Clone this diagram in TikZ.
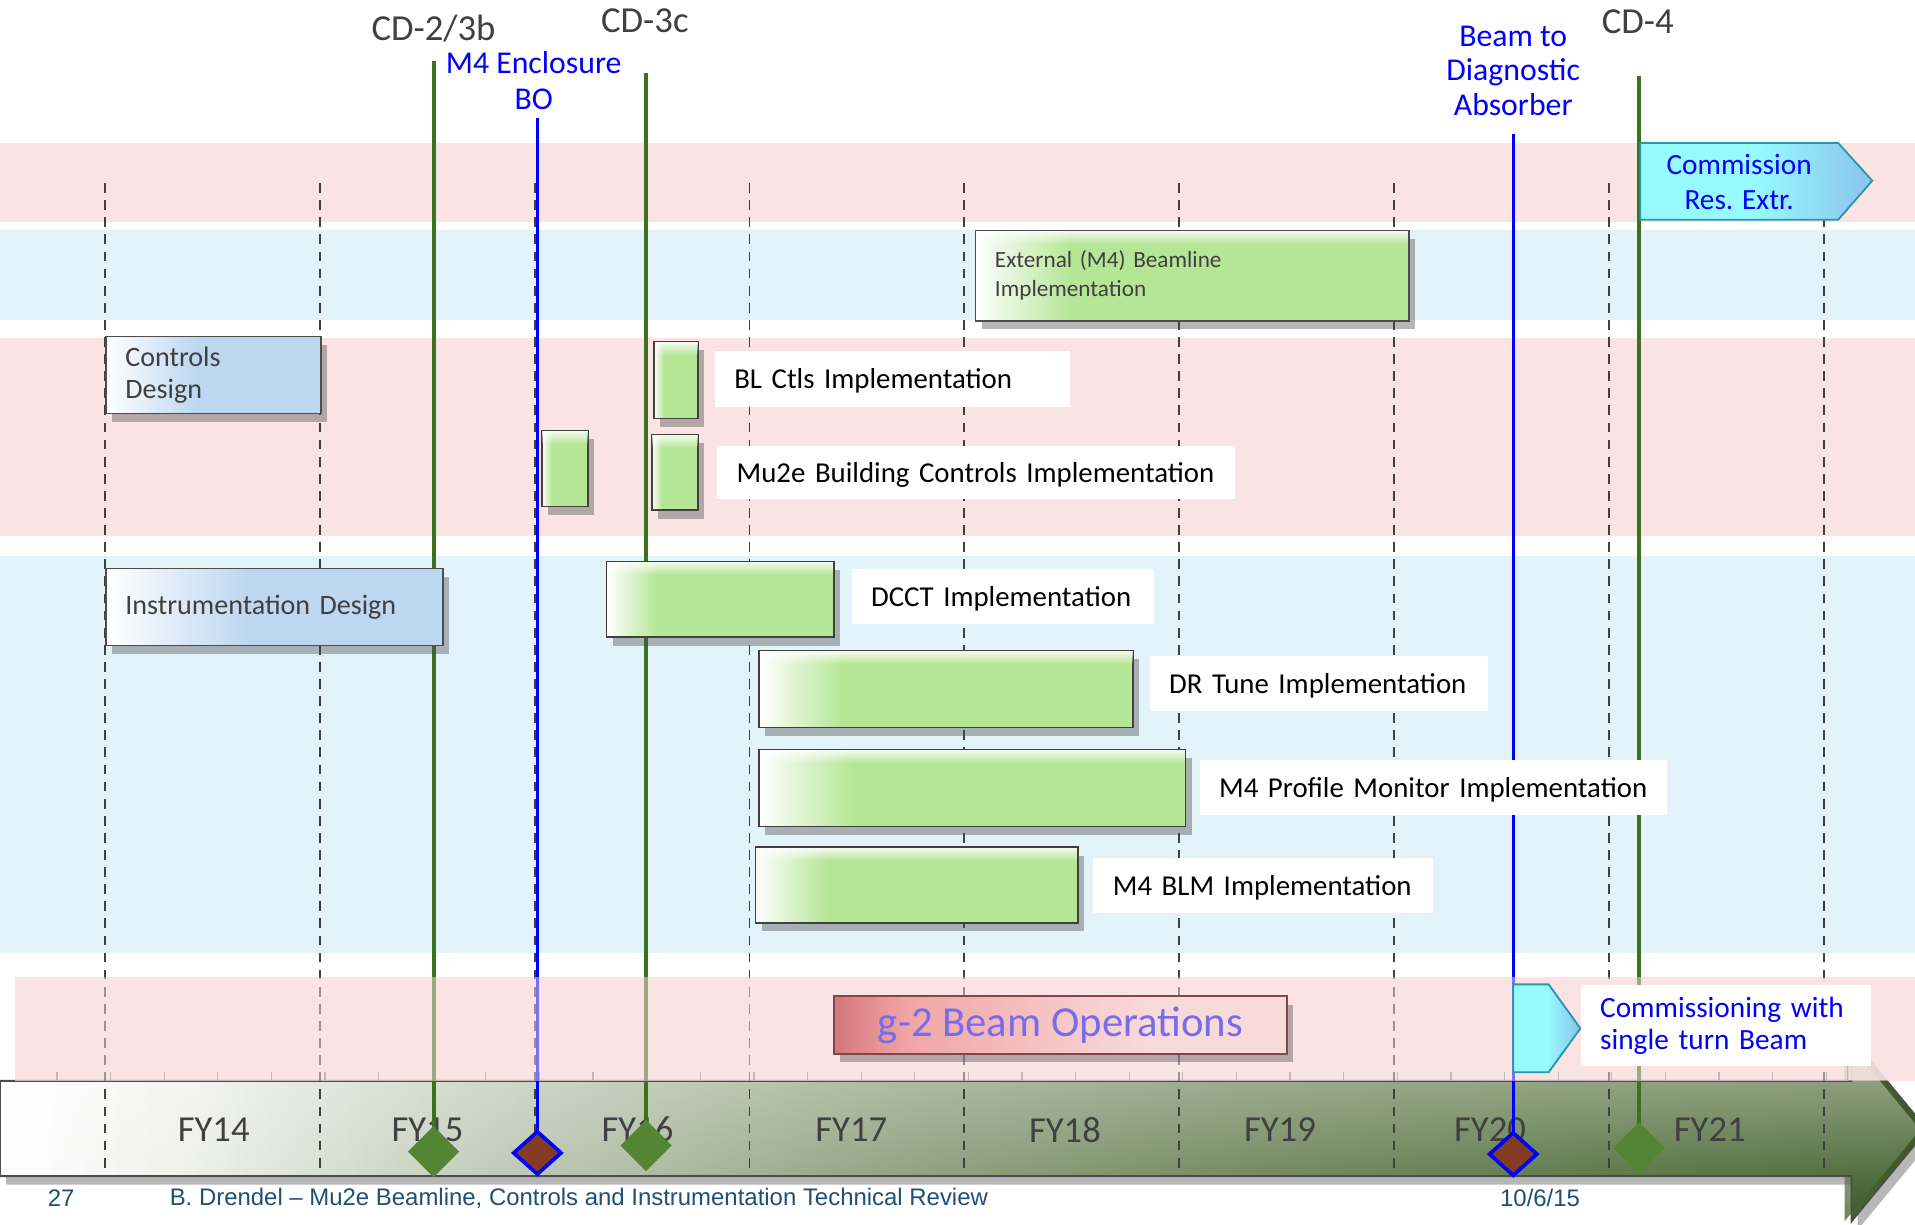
\documentclass[tikz,border=0pt]{standalone}
\usepackage{fontspec}
\setmainfont{Carlito}
\newfontfamily\footfont{Liberation Sans}
\usetikzlibrary{shapes.geometric,shadows,fadings}

\definecolor{bandpink}{RGB}{249,227,227}
\definecolor{bandblue}{RGB}{226,243,250}
\definecolor{bargreen}{RGB}{181,230,150}
\definecolor{designblue}{RGB}{189,215,240}
\definecolor{msgreen}{RGB}{58,114,30}
\definecolor{diagreen}{RGB}{83,133,50}
\definecolor{diabrown}{RGB}{132,60,36}
\definecolor{txtgray}{RGB}{64,64,64}
\definecolor{footblue}{RGB}{31,78,121}
\definecolor{comcyan}{RGB}{150,250,255}
\definecolor{comblue}{RGB}{140,195,235}
\definecolor{comedge}{RGB}{40,150,175}
\definecolor{gtwoL}{RGB}{212,118,122}
\definecolor{gtwoM}{RGB}{240,165,165}
\definecolor{gtwoR}{RGB}{249,218,218}
\definecolor{gtwotext}{RGB}{118,108,238}
\definecolor{tlA}{RGB}{250,250,248}
\definecolor{tlB}{RGB}{225,230,220}
\definecolor{tlC}{RGB}{204,212,196}
\definecolor{tlD}{RGB}{182,194,170}
\definecolor{tlE}{RGB}{160,178,148}
\definecolor{tlF}{RGB}{140,160,125}
\definecolor{tlG}{RGB}{118,143,100}
\definecolor{tlH}{RGB}{88,118,66}
\definecolor{tlI}{RGB}{58,88,36}
\definecolor{tltop}{RGB}{205,214,198}
\definecolor{tlbot}{RGB}{52,84,30}

\pgfdeclarehorizontalshading{greenfill}{100bp}{color(0bp)=(white); color(25bp)=(white); color(36bp)=(bargreen); color(100bp)=(bargreen)}
\pgfdeclarehorizontalshading{designfill}{100bp}{color(0bp)=(white); color(25bp)=(white); color(46bp)=(designblue); color(100bp)=(designblue)}
\pgfdeclarehorizontalshading{comfill}{100bp}{color(0bp)=(comcyan); color(50bp)=(comcyan); color(75bp)=(comblue); color(100bp)=(comblue)}
\pgfdeclarehorizontalshading{gtwofill}{100bp}{color(0bp)=(gtwoL); color(25bp)=(gtwoL); color(33bp)=(gtwoM); color(60bp)=(gtwoR); color(100bp)=(gtwoR)}
\pgfdeclarehorizontalshading{timefill}{100bp}{color(0bp)=(white); color(26bp)=(white); color(30bp)=(tlA); color(36bp)=(tlB); color(42bp)=(tlC); color(47bp)=(tlD); color(53bp)=(tlE); color(58bp)=(tlF); color(64bp)=(tlG); color(70bp)=(tlH); color(75bp)=(tlI); color(100bp)=(tlI)}

\begin{document}
\begin{tikzpicture}[x=1pt,y=-1pt,
        shad/.style={drop shadow={shadow xshift=5pt,shadow yshift=-7pt,opacity=.4,fill=black!70}},
        fyline/.style={draw=txtgray,line width=1.5pt,dash pattern=on 8pt off 6pt},
        greenline/.style={draw=msgreen,line width=3.2pt},
        blueline/.style={draw=blue,line width=2.8pt},
        tick/.style={draw=black!45,line width=1pt},
        bar/.style={shad,shade,shading=greenfill,draw=black!75,line width=1.3pt,anchor=north west,inner sep=0pt},
        shine/.style={white,opacity=.85,path fading=south},
        design/.style={shad,shade,shading=designfill,draw=black!70,line width=1.3pt,anchor=north west,
            inner xsep=16pt,inner ysep=0pt,align=left,text=txtgray,font=\fontsize{23}{26}\selectfont},
        lbl/.style={fill=white,anchor=north west,inner xsep=16pt,inner ysep=0pt,align=left,text depth=0pt,
            font=\fontsize{23.6}{28}\selectfont},
        cdlbl/.style={text=txtgray,font=\fontsize{30}{34}\selectfont,inner sep=0pt},
        bluelbl/.style={text=blue,align=center,inner sep=0pt},
        fylbl/.style={text=txtgray,font=\fontsize{30}{34}\selectfont,inner sep=0pt},
        greendia/.style={diamond,fill=diagreen,inner sep=0pt,minimum width=42pt,minimum height=42pt},
        browndia/.style={diamond,fill=diabrown,draw=blue,line width=3pt,inner sep=0pt,minimum width=40pt,minimum height=36pt},
        foot/.style={text=footblue,font=\footfont\fontsize{19.6}{22}\selectfont,inner sep=0pt}]
    %\draw[very thin,color=gray] (0,0) grid[step=100] (1568,1003);
    \useasboundingbox (0,0) rectangle (1568,1003);
    \fill[white] (0,0) rectangle (1568,1003);

    \fill[bandpink] (0,117) rectangle (1568,182);
    \fill[bandblue] (0,188) rectangle (1568,262);
    \fill[bandpink] (0,277) rectangle (1568,439);
    \fill[bandblue] (0,455) rectangle (1568,780);
    \fill[bandpink] (12,800) rectangle (1568,885);

    % time axis
    \path[shad,shade,shading=timefill] (0,885) -- (1516,885) -- (1516,850)
        -- (1578,925) -- (1516,1000) -- (1516,963) -- (0,963) -- cycle;
    \shade[top color=tltop,bottom color=tlbot,path fading=west,opacity=.75] (0,885) -- (1516,885) -- (1516,850)
        -- (1578,925) -- (1516,1000) -- (1516,963) -- (0,963) -- cycle;
    \draw[black!70,line width=1.5pt] (0,885) -- (1516,885) -- (1516,850)
        -- (1578,925) -- (1516,1000) -- (1516,963) -- (0,963) -- cycle;
    \fill[bandpink,opacity=.8] (1514,845) rectangle (1568,884);
    \draw[tick] (12,885) -- (1513,885) -- (1513,873);
    \foreach \i in {0,...,33}
        \draw[tick] ({46.6+43.9*\i},885) -- ++(0,-7);
    \foreach \fy/\x [count=\k] in {FY14/175,FY15/350,FY16/522,FY17/697,FY18/872,FY19/1048,FY20/1220,FY21/1400}
        \node[fylbl] (fy\k) at (\x,925) {\fy};

    \foreach \k in {0,...,8}
        \draw[fyline] ({86+175.9*\k},150) -- ({86+175.9*\k},960);

    \coordinate (cdtwo top) at (355,50);
    \coordinate (cdtwo pt) at (355,943);
    \coordinate (encl top) at (440,97);
    \coordinate (encl pt) at (440,944);
    \coordinate (cdthree top) at (529,60);
    \coordinate (cdthree pt) at (529,938);
    \coordinate (bda top) at (1239,110);
    \coordinate (bda pt) at (1239,945);
    \coordinate (cdfour top) at (1342,62);
    \coordinate (cdfour pt) at (1342,940);
    \draw[greenline] (cdtwo top) -- (cdtwo pt);
    \draw[blueline] (encl top) -- (encl pt);
    \draw[greenline] (cdthree top) -- (cdthree pt);
    \draw[blueline] (bda top) -- (bda pt);
    \draw[greenline] (cdfour top) -- (cdfour pt);

    \fill[bandpink,opacity=.5] (12,800) rectangle (1568,885);

    \node[design,minimum width=176pt,minimum height=63pt,text width=144pt] (ctlsdes) at (86,275) {Controls\\Design};
    \node[design,minimum width=276pt,minimum height=63pt,text width=244pt] (instdes) at (86,465) {\mbox{Instrumentation Design}};
    \node[design,shading=greenfill,minimum width=355pt,minimum height=74pt,text width=323pt,
        font=\fontsize{19}{24}\selectfont] (extbl) at (798,188) {External (M4) Beamline\\Implementation};

    \node[bar,minimum width=36pt,minimum height=63pt] (blctl bar) at (535,279) {};
    \node[bar,minimum width=38pt,minimum height=62pt] (encl bar) at (443,352) {};
    \node[bar,minimum width=38pt,minimum height=62pt] (mutwo bar) at (533,355) {};
    \node[bar,minimum width=186pt,minimum height=62pt] (dcct bar) at (496,459) {};
    \node[bar,minimum width=306pt,minimum height=63pt] (drtune bar) at (621,532) {};
    \node[bar,minimum width=349pt,minimum height=63pt] (prof bar) at (621,613) {};
    \node[bar,minimum width=264pt,minimum height=62pt] (blm bar) at (618,693) {};
    \foreach \b in {extbl,blctl bar,encl bar,mutwo bar,dcct bar,drtune bar,prof bar,blm bar}
        \fill[shine] ([shift={(1pt,-1pt)}]\b.north west) rectangle ([shift={(-1pt,-12pt)}]\b.north east);

    \node[lbl,minimum height=46pt,text width=259pt] (blctl) at (585,287) {\mbox{BL Ctls Implementation}};
    \node[lbl,minimum height=43pt,text width=392pt] (mutwo) at (587,365) {\mbox{Mu2e Building Controls Implementation}};
    \node[lbl,minimum height=45pt,text width=216pt] (dcct) at (697,466) {\mbox{DCCT Implementation}};
    \node[lbl,minimum height=45pt,text width=245pt] (drtune) at (941,537) {\mbox{DR Tune Implementation}};
    \node[lbl,minimum height=45pt,text width=351pt] (prof) at (982,622) {\mbox{M4 Profile Monitor Implementation}};
    \node[lbl,minimum height=45pt,text width=246pt] (blm) at (895,702) {\mbox{M4 BLM Implementation}};

    \path[shade,shading=comfill,draw=comedge,line width=1.5pt] (1343,117) -- (1505,117) -- (1533,148)
        -- (1505,180) -- (1343,180) -- cycle;
    \node[bluelbl,font=\fontsize{24}{28}\selectfont] (comres) at (1424,149) {Commission\\Res. Extr.};

    \node[shad,shade,shading=gtwofill,draw=black!40!gtwoL,line width=1.5pt,anchor=north west,
        minimum width=371pt,minimum height=47pt,text=gtwotext,font=\fontsize{35}{40}\selectfont] (gtwo) at (682,815) {g-2 Beam Operations};

    \path[shade,shading=comfill,draw=comedge,line width=1.5pt] (1239,806) -- (1268,806) -- (1294,842)
        -- (1268,878) -- (1239,878) -- cycle;
    \node[lbl,text=blue,minimum height=67pt,text width=206pt,text depth=,font=\fontsize{24}{26}\selectfont] (comsingle) at (1294,806)
        {Commissioning with\\single turn Beam};

    \node[greendia] (cdtwo dia) at (cdtwo pt) {};
    \node[browndia] (encl dia) at (encl pt) {};
    \node[greendia] (cdthree dia) at (cdthree pt) {};
    \node[browndia] (bda dia) at (bda pt) {};
    \node[greendia] (cdfour dia) at (cdfour pt) {};

    \node[cdlbl] (cdtwo lbl) at (355,23) {CD-2/3b};
    \node[cdlbl] (cdthree lbl) at (528,17) {CD-3c};
    \node[cdlbl] (cdfour lbl) at (1341,18) {CD-4};
    \node[bluelbl,font=\fontsize{26}{30}\selectfont] (encl lbl) at (437,66) {M4 Enclosure\\BO};
    \node[bluelbl,font=\fontsize{26}{28.5}\selectfont] (bda lbl) at (1239,58) {Beam to\\Diagnostic\\Absorber};

    \node[foot] (pagenum) at (50,981) {27};
    \node[foot] (talk) at (474,981) {B. Drendel – Mu2e Beamline, Controls and Instrumentation Technical Review};
    \node[foot] (date) at (1261,981) {10/6/15};
\end{tikzpicture}
\end{document}
